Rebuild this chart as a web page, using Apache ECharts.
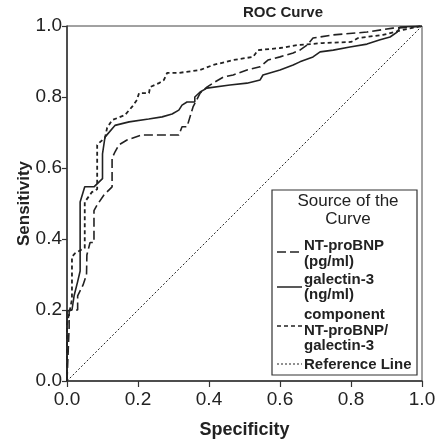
<!DOCTYPE html>
<html><head><meta charset="utf-8">
<script src="https://cdn.jsdelivr.net/npm/echarts@6/dist/echarts.min.js"></script>
<style>html,body{margin:0;padding:0;background:#fff;overflow:hidden}#c{width:435px;height:443px}</style>
</head><body><div id="c"></div>
<script>
var xTicks = [0, 0.2, 0.4, 0.6, 0.8, 1.0];
var ntX = [0,0.006,0.006,0.03,0.03,0.045,0.055,0.056,0.065,0.076,0.076,0.085,0.104,0.127,0.127,0.135,0.146,0.169,0.211,0.315,0.324,0.338,0.355,0.375,0.394,0.411,0.44,0.468,0.507,0.544,0.566,0.6,0.637,0.656,0.676,0.693,0.749,0.845,0.918,0.975,1];
var ntY = [0,0.15,0.2,0.2,0.24,0.27,0.3,0.355,0.39,0.39,0.48,0.496,0.524,0.547,0.628,0.645,0.665,0.679,0.693,0.693,0.716,0.716,0.772,0.811,0.828,0.839,0.856,0.862,0.876,0.885,0.904,0.913,0.924,0.932,0.946,0.966,0.975,0.983,0.994,0.997,1];
var galX = [0,0,0.014,0.02,0.03,0.037,0.037,0.05,0.076,0.1,0.1,0.107,0.135,0.175,0.23,0.268,0.296,0.315,0.324,0.338,0.36,0.36,0.375,0.394,0.459,0.507,0.544,0.552,0.6,0.637,0.656,0.693,0.713,0.75,0.797,0.845,0.882,0.91,0.93,0.938,1];
var galY = [0,0.197,0.2,0.24,0.28,0.31,0.504,0.547,0.547,0.57,0.64,0.687,0.72,0.73,0.738,0.744,0.752,0.763,0.777,0.786,0.786,0.8,0.814,0.825,0.834,0.839,0.848,0.862,0.876,0.89,0.899,0.913,0.927,0.932,0.941,0.949,0.961,0.969,0.983,0.997,1];
var compX = [0,0,0.008,0.014,0.014,0.023,0.05,0.05,0.07,0.085,0.085,0.093,0.107,0.113,0.127,0.163,0.183,0.197,0.203,0.231,0.234,0.259,0.273,0.282,0.315,0.375,0.411,0.468,0.524,0.538,0.6,0.648,0.72,0.8,0.82,0.89,0.95,1];
var compY = [0,0.16,0.2,0.23,0.35,0.36,0.375,0.504,0.532,0.54,0.665,0.673,0.685,0.713,0.735,0.749,0.772,0.792,0.811,0.811,0.828,0.839,0.848,0.868,0.868,0.876,0.89,0.904,0.913,0.932,0.938,0.946,0.952,0.955,0.966,0.975,0.99,1];
var refX = [0, 1];
var refY = [0, 1];

function pairs(xs, ys){ return xs.map(function(x,i){ return [x, ys[i]]; }); }

var FONT = 'Liberation Sans, Arial, sans-serif';
var ink = '#222';
var chart = echarts.init(document.getElementById('c'));
var lines = [
  {d: pairs(ntX, ntY), type: [9,4], w: 1.6},
  {d: pairs(galX, galY), type: 'solid', w: 1.6},
  {d: pairs(compX, compY), type: [4,3], w: 1.8},
  {d: pairs(refX, refY), type: [2,2], w: 1}
];
chart.setOption({
  animation: false,
  backgroundColor: '#fff',
  title: {text: 'ROC Curve', left: 238, top: 0, textStyle: {fontFamily: FONT, fontSize: 15, fontWeight: 'bold', color: ink}},
  grid: {left: 67, top: 26, width: 355, height: 355, outerBoundsMode: 'none', containLabel: false, show: true, borderColor: '#444', borderWidth: 1},
  xAxis: {
    type: 'value', min: 0, max: 1, interval: 0.2,
    name: 'Specificity', nameLocation: 'middle', nameGap: 40,
    nameTextStyle: {fontFamily: FONT, fontSize: 18, fontWeight: 'bold', color: ink},
    axisLine: {lineStyle: {color: '#333', width: 1.5}},
    axisTick: {show: true, length: 6, lineStyle: {color: '#333', width: 1.2}},
    axisLabel: {fontFamily: FONT, fontSize: 19, color: ink, margin: 9, formatter: function(v){ return v.toFixed(1); }},
    splitLine: {show: false}
  },
  yAxis: {
    type: 'value', min: 0, max: 1, interval: 0.2,
    name: 'Sensitivity', nameLocation: 'middle', nameGap: 34, nameMoveOverlap: false,
    nameTextStyle: {fontFamily: FONT, fontSize: 17, fontWeight: 'bold', color: ink},
    axisLine: {show: true, lineStyle: {color: '#333', width: 1.5}},
    axisTick: {show: true, length: 5, lineStyle: {color: '#333', width: 1.2}},
    axisLabel: {fontFamily: FONT, fontSize: 19, color: ink, margin: 5, formatter: function(v){ return v.toFixed(1); }},
    splitLine: {show: false}
  },
  series: lines.map(function(l){
    return {type: 'line', data: l.d, symbol: 'none', silent: true,
      lineStyle: {color: ink, width: l.w, type: l.type}};
  }),
  graphic: [
    {type: 'rect', shape: {x: 272, y: 190, width: 145, height: 185}, style: {fill: '#fff', stroke: '#333', lineWidth: 1.2}, z: 10},
    {type: 'text', x: 348, y: 201, z: 11, style: {text: 'Source of the', font: '17px ' + FONT, fill: ink, textAlign: 'center', textVerticalAlign: 'middle'}},
    {type: 'text', x: 348, y: 219, z: 11, style: {text: 'Curve', font: '17px ' + FONT, fill: ink, textAlign: 'center', textVerticalAlign: 'middle'}},
    {type: 'line', z: 11, shape: {x1: 277, y1: 252, x2: 302, y2: 252}, style: {stroke: ink, lineWidth: 1.5, lineDash: [9,4]}},
    {type: 'line', z: 11, shape: {x1: 277, y1: 287, x2: 302, y2: 287}, style: {stroke: ink, lineWidth: 1.5}},
    {type: 'line', z: 11, shape: {x1: 277, y1: 326, x2: 302, y2: 326}, style: {stroke: ink, lineWidth: 1.7, lineDash: [4,3]}},
    {type: 'line', z: 11, shape: {x1: 277, y1: 364, x2: 302, y2: 364}, style: {stroke: ink, lineWidth: 1, lineDash: [2,2]}},
    {type: 'text', x: 304, y: 246, z: 11, style: {text: 'NT-proBNP', font: 'bold 15px ' + FONT, fill: ink, textVerticalAlign: 'middle'}},
    {type: 'text', x: 304, y: 262, z: 11, style: {text: '(pg/ml)', font: 'bold 15px ' + FONT, fill: ink, textVerticalAlign: 'middle'}},
    {type: 'text', x: 304, y: 280, z: 11, style: {text: 'galectin-3', font: 'bold 15px ' + FONT, fill: ink, textVerticalAlign: 'middle'}},
    {type: 'text', x: 304, y: 295, z: 11, style: {text: '(ng/ml)', font: 'bold 15px ' + FONT, fill: ink, textVerticalAlign: 'middle'}},
    {type: 'text', x: 304, y: 315, z: 11, style: {text: 'component', font: 'bold 15px ' + FONT, fill: ink, textVerticalAlign: 'middle'}},
    {type: 'text', x: 304, y: 331, z: 11, style: {text: 'NT-proBNP/', font: 'bold 15px ' + FONT, fill: ink, textVerticalAlign: 'middle'}},
    {type: 'text', x: 304, y: 346, z: 11, style: {text: 'galectin-3', font: 'bold 15px ' + FONT, fill: ink, textVerticalAlign: 'middle'}},
    {type: 'text', x: 304, y: 365, z: 11, style: {text: 'Reference Line', font: 'bold 15px ' + FONT, fill: ink, textVerticalAlign: 'middle'}}
  ]
});
</script></body></html>
